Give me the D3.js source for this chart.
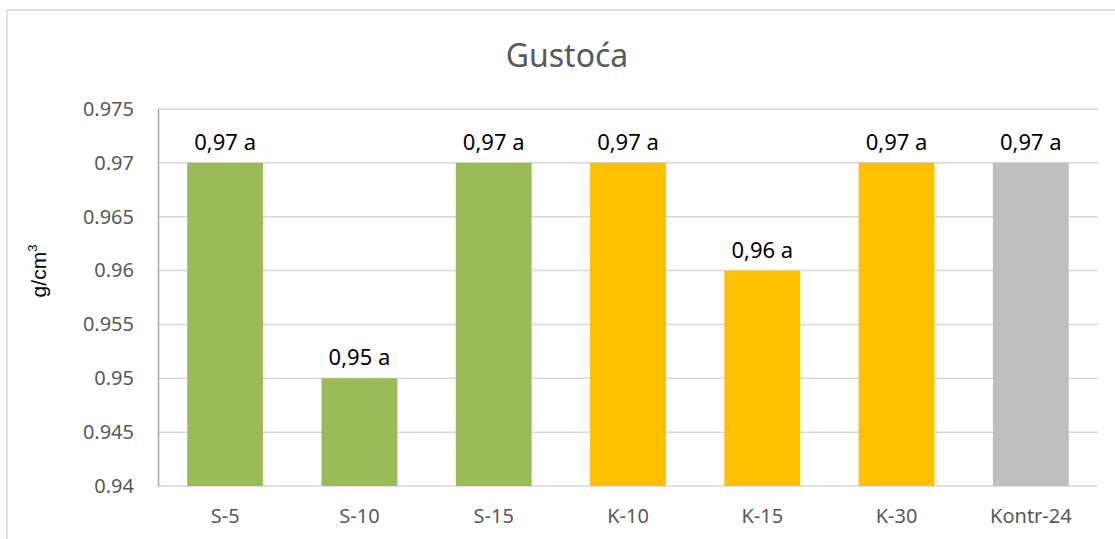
<!DOCTYPE html>
<html>
<head>
<meta charset="utf-8">
<script src="https://cdn.jsdelivr.net/npm/d3@7"></script>
<style>
  body { margin: 0; background: #fff; }
  svg { display: block; }
</style>
</head>
<body>
<svg id="chart" width="1115" height="539"></svg>
<script>
// data
const categories = ["S-5", "S-10", "S-15", "K-10", "K-15", "K-30", "Kontr-24"];
const values = [0.97, 0.95, 0.97, 0.97, 0.96, 0.97, 0.97];
const labels = ["0,97 a", "0,95 a", "0,97 a", "0,97 a", "0,96 a", "0,97 a", "0,97 a"];
const groups = ["S", "S", "S", "K", "K", "K", "C"];
const yTicks = [0.94, 0.945, 0.95, 0.955, 0.96, 0.965, 0.97, 0.975];

const colors = { S: "#9bbb59", K: "#ffc000", C: "#bfbfbf" };
const font = "'Noto Sans', 'Open Sans', sans-serif";

const svg = d3.select("#chart");
const W = 1115, H = 539;
const m = { left: 158, right: 17, top: 109, bottom: 53 };

//outer chart border (left and top only visible)
svg.append("path")
  .attr("d", `M7,${H} V10 H${W}`)
  .attr("fill", "none")
  .attr("stroke", "#d9d9d9")
  .attr("stroke-width", 1.5);

const x = d3.scaleBand()
  .domain(categories)
  .range([m.left, W - m.right])
  .paddingInner(0.435)
  .paddingOuter(0.2175);

const y = d3.scaleLinear()
  .domain([0.94, 0.975])
  .range([H - m.bottom, m.top]);

//gridlines
svg.append("g")
  .selectAll("line")
  .data(yTicks)
  .join("line")
  .attr("x1", m.left)
  .attr("x2", W - m.right)
  .attr("y1", d => y(d))
  .attr("y2", d => y(d))
  .attr("stroke", "#d9d9d9")
  .attr("stroke-width", 1.5);

//bars
svg.append("g")
  .selectAll("rect")
  .data(values)
  .join("rect")
  .attr("x", (d, i) => x(categories[i]))
  .attr("width", x.bandwidth())
  .attr("y", d => y(d))
  .attr("height", d => y(0.94) - y(d))
  .attr("fill", (d, i) => colors[groups[i]]);

//data labels
svg.append("g")
  .selectAll("text")
  .data(values)
  .join("text")
  .attr("x", (d, i) => x(categories[i]) + x.bandwidth() / 2)
  .attr("y", d => y(d) - 13)
  .attr("text-anchor", "middle")
  .attr("font-family", font)
  .attr("font-size", 22)
  .attr("fill", "#000")
  .text((d, i) => labels[i]);

//y axis
const yAxis = d3.axisLeft(y).tickValues(yTicks).tickSize(0).tickPadding(24)
  .tickFormat(d => String(+d.toFixed(3)));
const gy = svg.append("g")
  .attr("transform", `translate(${m.left},0)`)
  .call(yAxis);
gy.select(".domain").attr("stroke", "#a6a6a6").attr("stroke-width", 1.5);
gy.selectAll("text")
  .attr("font-family", font)
  .attr("font-size", 20)
  .attr("fill", "#595959");

//x axis
const xAxis = d3.axisBottom(x).tickSize(0).tickPadding(23);
const gx = svg.append("g")
  .attr("transform", `translate(0,${H - m.bottom})`)
  .call(xAxis);
gx.select(".domain").remove();
gx.selectAll("text")
  .attr("font-family", font)
  .attr("font-size", 20)
  .attr("fill", "#595959");

//title
svg.append("text")
  .attr("x", 567)
  .attr("y", 67)
  .attr("text-anchor", "middle")
  .attr("font-family", font)
  .attr("font-size", 32)
  .attr("fill", "#595959")
  .text("Gustoća");

//y label
const yl = svg.append("text")
  .attr("transform", "translate(46,271) rotate(-90)")
  .attr("text-anchor", "middle")
  .attr("font-family", "'Liberation Sans', Arial, sans-serif")
  .attr("font-size", 21)
  .attr("fill", "#000");
yl.append("tspan").text("g/cm");
yl.append("tspan").attr("font-size", 13).attr("dy", -9).text("3");
</script>
</body>
</html>
